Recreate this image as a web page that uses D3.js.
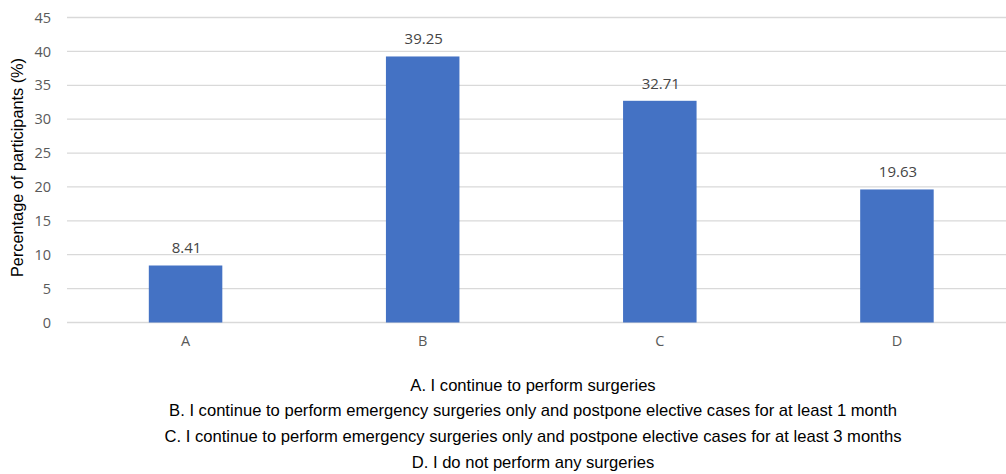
<!DOCTYPE html>
<html><head><meta charset="utf-8">
<script src="https://cdn.jsdelivr.net/npm/d3@7"></script>
<style>body{margin:0;background:#fff}svg{display:block}</style>
</head><body>
<svg id="c" width="1006" height="474"></svg>
<script>
const categories = ["A","B","C","D"];
const values = [8.41, 39.25, 32.71, 19.63];
const yTicks = [0,5,10,15,20,25,30,35,40,45];
const legendLines = [
  "A. I continue to perform surgeries",
  "B. I continue to perform emergency surgeries only and postpone elective cases for at least 1 month",
  "C. I continue to perform emergency surgeries only and postpone elective cases for at least 3 months",
  "D. I do not perform any surgeries"
];
const yTitle = "Percentage of participants (%)";

(function(){
const svg = d3.select("#c");
const mLeft = 67, mRight = 1015.5, mTop = 17.5, mBottom = 322.5;
const x = d3.scaleBand().domain(categories).range([mLeft, mRight]).paddingInner(0.69).paddingOuter(0.345);
const y = d3.scaleLinear().domain([0,45]).range([mBottom, mTop]);

const tickFont = "'Open Sans', 'Liberation Sans', sans-serif";

svg.append("g").selectAll("line").data(yTicks).join("line")
  .attr("x1", mLeft).attr("x2", mRight)
  .attr("y1", d => y(d)).attr("y2", d => y(d))
  .attr("stroke", "#d9d9d9").attr("stroke-width", 1.3);

const yAxis = d3.axisLeft(y).tickValues(yTicks).tickSize(0).tickPadding(0);
const gy = svg.append("g").attr("transform", `translate(${mLeft-16},0)`).call(yAxis);
gy.select(".domain").remove();
gy.selectAll("text").attr("fill", "#595959").style("font-family", tickFont).style("font-size", "14.5px");

const xAxis = d3.axisBottom(x).tickSize(0).tickPadding(0);
const gx = svg.append("g").attr("transform", `translate(0,${mBottom+13})`).call(xAxis);
gx.select(".domain").remove();
gx.selectAll("text").attr("fill", "#595959").style("font-family", tickFont).style("font-size", "14.5px");

svg.append("g").selectAll("rect").data(values).join("rect")
  .attr("x", (d,i) => x(categories[i]))
  .attr("width", x.bandwidth())
  .attr("y", d => y(d))
  .attr("height", d => y(0) - y(d))
  .attr("fill", "#4472C4");

svg.append("g").selectAll("text").data(values).join("text")
  .attr("x", (d,i) => x(categories[i]) + x.bandwidth()/2 + 1)
  .attr("y", d => y(d) - 12)
  .attr("text-anchor", "middle")
  .attr("fill", "#454545")
  .style("font-family", tickFont).style("font-size", "15px").style("font-weight", 500)
  .text(d => d.toFixed(2));

svg.append("text")
  .attr("transform", `translate(23,167.5) rotate(-90)`)
  .attr("text-anchor", "middle")
  .attr("fill", "#000")
  .style("font-family", "'Liberation Sans', Arial, sans-serif").style("font-size", "16.3px")
  .text(yTitle);

svg.append("g").selectAll("text").data(legendLines).join("text")
  .attr("x", 533)
  .attr("y", (d,i) => 390.5 + i*25.7)
  .attr("text-anchor", "middle")
  .attr("fill", "#000")
  .style("font-family", "'Liberation Sans', Arial, sans-serif").style("font-size", "16.6px")
  .text(d => d);
})();
</script>
</body></html>
